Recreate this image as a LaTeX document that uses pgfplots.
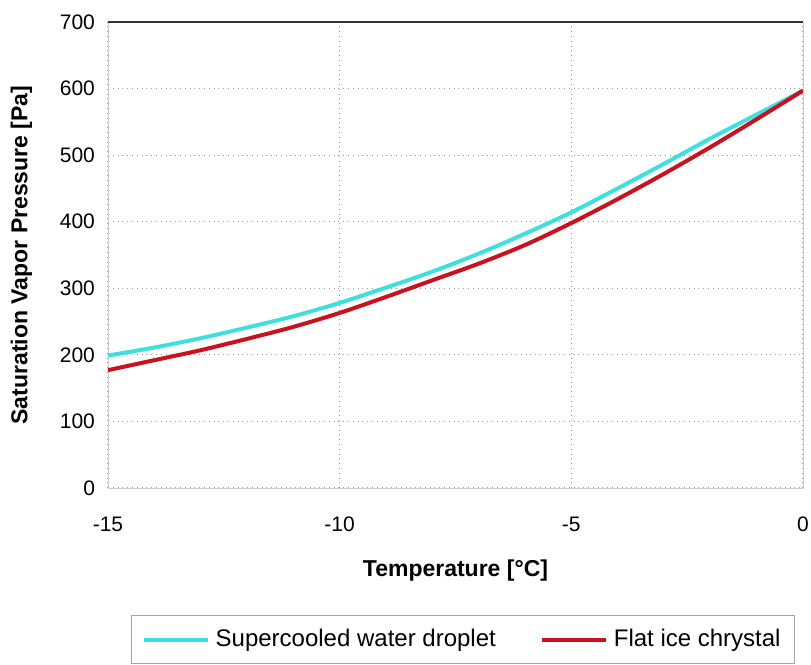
\documentclass[border=0pt]{standalone}
\usepackage{fontspec}
\setmainfont{Liberation Sans}
\usepackage{pgfplots}
\pgfplotsset{compat=1.18}
\definecolor{cyanl}{RGB}{64,222,222}
\definecolor{redl}{RGB}{200,18,32}
\begin{document}
\begin{tikzpicture}
\begin{axis}[
  scale only axis,
  width=347.5pt, height=233pt,
  xmin=-15, xmax=0, ymin=0, ymax=700,
  xtick={-15,-10,-5,0}, ytick={0,100,...,700},
  /pgf/number format/assume math mode=true,
  tick label style={font=\fontsize{10.5}{12}\selectfont},
  yticklabel style={xshift=-3pt},
  xticklabel style={yshift=-11pt},
  xlabel={\textbf{Temperature [°C]}},
  ylabel={\textbf{Saturation Vapor Pressure [Pa]}},
  label style={font=\fontsize{11.5}{13}\selectfont},
  xlabel style={yshift=-7pt},
  ylabel style={yshift=7pt},
  grid=major,
  major grid style={gray!80, dotted, line width=0.6pt},
  axis line style={gray!40},
  tick style={draw=none},
  legend style={at={(0.511,-0.2725)}, anchor=north, draw=gray!70,
    font=\fontsize{12}{14}\selectfont, inner ysep=5pt, inner xsep=5pt},
  legend columns=2,
  legend image code/.code={\draw[#1, line width=2pt] (0pt,0pt) -- (32pt,0pt);},
  /tikz/every odd column/.append style={column sep=1pt},
  /tikz/every even column/.append style={column sep=20pt},
  after end axis/.code={\draw[black!80, line width=0.8pt] (rel axis cs:0,1) -- (rel axis cs:1,1);},
]
\addplot[cyanl, line width=2pt, smooth] coordinates {
(-15,199) (-14,211) (-13,225) (-12,241) (-11,258) (-10,278) (-9,301) (-8,325) (-7,352) (-6,382) (-5,414) (-4,450) (-3,487) (-2,525) (-1,561) (0,597)};
\addlegendentry{Supercooled water droplet}
\addplot[redl, line width=2pt, smooth] coordinates {
(-15,177) (-14,192) (-13,207) (-12,224) (-11,242) (-10,263) (-9,287) (-8,312) (-7,337) (-6,365) (-5,398) (-4,434) (-3,472) (-2,512) (-1,554) (0,597)};
\addlegendentry{Flat ice chrystal}
\end{axis}
\pgfresetboundingbox
\useasboundingbox (-54pt,-88.5pt) rectangle (351.5pt,244pt);
\end{tikzpicture}
\end{document}
